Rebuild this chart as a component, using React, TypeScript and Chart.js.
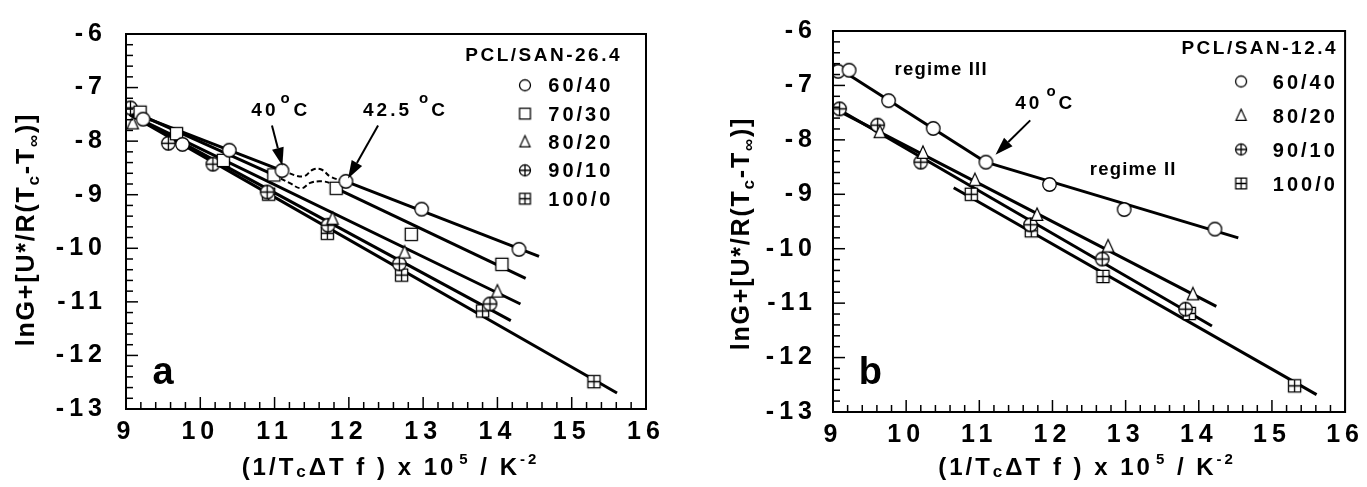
import React, { useEffect, useRef } from 'react';
import { Chart, registerables } from 'chart.js';

Chart.register(...registerables);

const FAM = "'Liberation Sans', Arial, Helvetica, sans-serif";

type P = [number, number];
type SymKind = 'circle' | 'square' | 'triangle' | 'circlePlus' | 'squarePlus';

// ---------------- axes ----------------
const X_MIN = 9;
const X_MAX = 16;
const Y_MIN = -13;
const Y_MAX = -6;
const MINOR_PER_UNIT = 5;

// ---------------- panel a : PCL/SAN-26.4 ----------------
const A_LEGEND_TITLE = 'PCL/SAN-26.4';
const A_LABELS = ['60/40', '70/30', '80/20', '90/10', '100/0'];
const A_6040: P[] = [[9.23, -7.59], [9.76, -8.06], [10.39, -8.17], [11.10, -8.55], [11.96, -8.75], [12.98, -9.27], [14.29, -10.02]];
const A_7030: P[] = [[9.19, -7.46], [9.68, -7.86], [10.31, -8.36], [10.99, -8.63], [11.83, -8.88], [12.84, -9.74], [14.06, -10.30]];
const A_8020: P[] = [[9.09, -7.67], [11.78, -9.45], [12.75, -10.08], [14.00, -10.81]];
const A_9010: P[] = [[9.06, -7.38], [9.57, -8.04], [10.17, -8.43], [10.90, -8.95], [11.72, -9.57], [12.68, -10.29], [13.90, -11.04]];
const A_1000: P[] = [[10.92, -8.99], [11.71, -9.72], [12.71, -10.50], [13.80, -11.17], [15.30, -12.49]];
const A_FIT_6040_III: P[] = [[9.05, -7.45], [11.10, -8.55]];
const A_FIT_6040_II: P[] = [[11.96, -8.75], [14.56, -10.15]];
const A_FIT_7030_III: P[] = [[9.05, -7.42], [10.99, -8.63]];
const A_FIT_7030_II: P[] = [[11.83, -8.88], [14.38, -10.56]];
const A_FIT_8020: P[] = [[9.05, -7.50], [14.31, -11.04]];
const A_FIT_9010: P[] = [[9.05, -7.50], [14.18, -11.35]];
const A_FIT_1000: P[] = [[9.05, -7.50], [15.61, -12.70]];
const A_TRANS_6040: P[] = [[11.10, -8.55], [11.38, -8.66], [11.52, -8.53], [11.63, -8.53], [11.76, -8.67], [11.96, -8.75]];
const A_TRANS_7030: P[] = [[10.99, -8.63], [11.20, -8.78], [11.36, -8.88], [11.48, -8.78], [11.62, -8.75], [11.76, -8.79], [11.83, -8.88]];

// ---------------- panel b : PCL/SAN-12.4 ----------------
const B_LEGEND_TITLE = 'PCL/SAN-12.4';
const B_LABELS = ['60/40', '80/20', '90/10', '100/0'];
const B_6040: P[] = [[9.07, -6.74], [9.22, -6.72], [9.76, -7.28], [10.37, -7.79], [11.09, -8.41], [11.96, -8.82], [12.98, -9.28], [14.22, -9.64]];
const B_8020: P[] = [[9.64, -7.86], [10.23, -8.24], [10.94, -8.74], [11.79, -9.38], [12.76, -9.96], [13.92, -10.84]];
const B_9010: P[] = [[9.09, -7.43], [9.61, -7.73], [10.20, -8.41], [11.70, -9.56], [12.68, -10.19], [13.82, -11.11]];
const B_1000: P[] = [[10.89, -9.00], [11.71, -9.67], [12.69, -10.51], [13.87, -11.19], [15.31, -12.52]];
const B_FIT_6040_III: P[] = [[9.00, -6.62], [11.09, -8.41]];
const B_FIT_6040_II: P[] = [[11.09, -8.41], [14.54, -9.80]];
const B_FIT_8020: P[] = [[9.05, -7.45], [14.24, -11.06]];
const B_FIT_9010: P[] = [[9.05, -7.42], [14.18, -11.42]];
const B_FIT_1000: P[] = [[10.65, -8.88], [15.61, -12.68]];

// ---------------- helpers ----------------
function makeSymbol(kind: SymKind, size: number, lw: number): HTMLCanvasElement {
  const dim = Math.ceil(size + lw * 2 + 2);
  const c = document.createElement('canvas');
  c.width = dim;
  c.height = dim;
  const ctx = c.getContext('2d')!;
  const m = dim / 2;
  const r = size / 2;
  ctx.lineWidth = lw;
  ctx.strokeStyle = '#000';
  ctx.fillStyle = '#fff';
  ctx.beginPath();
  if (kind === 'circle' || kind === 'circlePlus') {
    ctx.arc(m, m, r, 0, Math.PI * 2);
  } else if (kind === 'square' || kind === 'squarePlus') {
    ctx.rect(m - r * 0.9, m - r * 0.9, r * 1.8, r * 1.8);
  } else {
    ctx.moveTo(m, m - r * 1.05);
    ctx.lineTo(m + r * 0.85, m + r * 0.8);
    ctx.lineTo(m - r * 0.85, m + r * 0.8);
    ctx.closePath();
  }
  ctx.fill();
  ctx.stroke();
  if (kind === 'circlePlus' || kind === 'squarePlus') {
    const e = kind === 'circlePlus' ? r : r * 0.9;
    ctx.beginPath();
    ctx.moveTo(m - e, m);
    ctx.lineTo(m + e, m);
    ctx.moveTo(m, m - e);
    ctx.lineTo(m, m + e);
    ctx.stroke();
  }
  return c;
}

function setLS(ctx: CanvasRenderingContext2D, px: number) {
  (ctx as any).letterSpacing = `${px}px`;
}

type Seg = { t: string; size: number; dy?: number; gap?: number };

function richWidth(ctx: CanvasRenderingContext2D, segs: Seg[], ls: number) {
  let w = 0;
  for (const s of segs) {
    ctx.font = `bold ${s.size}px ${FAM}`;
    setLS(ctx, ls);
    w += (s.gap ?? 0) + ctx.measureText(s.t).width;
  }
  return w;
}

function drawRich(ctx: CanvasRenderingContext2D, segs: Seg[], x: number, y: number, ls: number, align: 'left' | 'center' | 'right') {
  const w = richWidth(ctx, segs, ls);
  let cx = align === 'center' ? x - w / 2 : align === 'right' ? x - w : x;
  ctx.textAlign = 'left';
  ctx.textBaseline = 'alphabetic';
  ctx.fillStyle = '#000';
  for (const s of segs) {
    cx += s.gap ?? 0;
    ctx.font = `bold ${s.size}px ${FAM}`;
    setLS(ctx, ls);
    ctx.fillText(s.t, cx, y + (s.dy ?? 0));
    cx += ctx.measureText(s.t).width;
  }
}

function drawArrow(ctx: CanvasRenderingContext2D, x1: number, y1: number, x2: number, y2: number) {
  const ang = Math.atan2(y2 - y1, x2 - x1);
  const hl = 18;
  const hw = 6;
  const bx = x2 - Math.cos(ang) * hl;
  const by = y2 - Math.sin(ang) * hl;
  ctx.beginPath();
  ctx.moveTo(x1, y1);
  ctx.lineTo(bx, by);
  ctx.lineWidth = 2;
  ctx.stroke();
  ctx.beginPath();
  ctx.moveTo(x2, y2);
  ctx.lineTo(bx + Math.sin(ang) * hw, by - Math.cos(ang) * hw);
  ctx.lineTo(bx - Math.sin(ang) * hw, by + Math.cos(ang) * hw);
  ctx.closePath();
  ctx.fill();
}

const Y_TITLE: Seg[] = [
  { t: 'lnG+[U*/R(T', size: 25 },
  { t: 'c', size: 17, dy: 5 },
  { t: '-T', size: 25 },
  { t: '\u221E', size: 17, dy: 5 },
  { t: ')]', size: 25 },
];
const X_TITLE: Seg[] = [
  { t: '(1/T', size: 24 },
  { t: 'c', size: 17, dy: 2 },
  { t: '\u0394T f ) x 10', size: 24 },
  { t: '5', size: 15, dy: -11, gap: 3 },
  { t: ' / K', size: 24 },
  { t: '-2', size: 15, dy: -11 },
];

type Series = { label: string; pts: P[]; sym: SymKind };
type TextAnn = { at: P; segs: Seg[]; ls: number };

interface PanelCfg {
  series: Series[];
  fits: P[][];
  dashed: P[][];
  legendTitle: string;
  pad: { left: number; right: number; top: number };
  yAxisWidth: number;
  xAxisHeight: number;
  yTickPad: number;
  legend: { titleRight: number; titleBase: number; symX: number; textX: number; row0: number; rowStep: number };
  arrows: { from: P; to: P }[];
  texts: TextAnn[];
  yTitle: { dx: number; dy: number };
  xTitle: { dx: number; base: number };
}

const PANEL_A: PanelCfg = {
  series: [
    { label: A_LABELS[0], pts: A_6040, sym: 'circle' },
    { label: A_LABELS[1], pts: A_7030, sym: 'square' },
    { label: A_LABELS[2], pts: A_8020, sym: 'triangle' },
    { label: A_LABELS[3], pts: A_9010, sym: 'circlePlus' },
    { label: A_LABELS[4], pts: A_1000, sym: 'squarePlus' },
  ],
  fits: [A_FIT_6040_III, A_FIT_6040_II, A_FIT_7030_III, A_FIT_7030_II, A_FIT_8020, A_FIT_9010, A_FIT_1000],
  dashed: [A_TRANS_6040, A_TRANS_7030],
  legendTitle: A_LEGEND_TITLE,
  pad: { left: 0, right: 721, top: 20 },
  yAxisWidth: 126,
  xAxisHeight: 78,
  yTickPad: 19,
  legend: { titleRight: 24, titleBase: 26.7, symX: 121, textX: 97.7, row0: 58.3, rowStep: 28.35 },
  arrows: [
    { from: [10.965, -7.71], to: [11.105, -8.46] },
    { from: [12.393, -7.71], to: [11.989, -8.699] },
  ],
  texts: [
    { at: [10.687, -7.53], ls: 3, segs: [{ t: '40', size: 19 }, { t: 'o', size: 15, dy: -13, gap: 2 }, { t: 'C', size: 19, gap: 1 }] },
    { at: [12.191, -7.53], ls: 3, segs: [{ t: '42.5', size: 19 }, { t: 'o', size: 15, dy: -13, gap: 7 }, { t: 'C', size: 19 }] },
    { at: [9.357, -12.53], ls: 0, segs: [{ t: 'a', size: 38 }] },
  ],
  yTitle: { dx: -101.5, dy: 8 },
  xTitle: { dx: 4.5, base: 475 },
};

const PANEL_B: PanelCfg = {
  series: [
    { label: B_LABELS[0], pts: B_6040, sym: 'circle' },
    { label: B_LABELS[1], pts: B_8020, sym: 'triangle' },
    { label: B_LABELS[2], pts: B_9010, sym: 'circlePlus' },
    { label: B_LABELS[3], pts: B_1000, sym: 'squarePlus' },
  ],
  fits: [B_FIT_6040_III, B_FIT_6040_II, B_FIT_8020, B_FIT_9010, B_FIT_1000],
  dashed: [],
  legendTitle: B_LEGEND_TITLE,
  pad: { left: 700, right: 18, top: 24 },
  yAxisWidth: 133,
  xAxisHeight: 75,
  yTickPad: 16,
  legend: { titleRight: 7, titleBase: 22.7, symX: 104, textX: 72.3, row0: 57.5, rowStep: 34 },
  arrows: [{ from: [11.696, -7.642], to: [11.221, -8.273] }],
  texts: [
    { at: [11.492, -7.431], ls: 3, segs: [{ t: '40', size: 19 }, { t: 'o', size: 15, dy: -13, gap: 4 }, { t: 'C', size: 19 }] },
    { at: [9.841, -6.812], ls: 1.2, segs: [{ t: 'regime III', size: 18.5 }] },
    { at: [12.51, -8.652], ls: 1.2, segs: [{ t: 'regime II', size: 18.5 }] },
    { at: [9.353, -12.477], ls: 0, segs: [{ t: 'b', size: 38 }] },
  ],
  yTitle: { dx: -93, dy: 12 },
  xTitle: { dx: -2, base: 475 },
};

const toXY = (arr: P[]) => arr.map(([x, y]) => ({ x, y }));

function buildChart(canvas: HTMLCanvasElement, cfg: PanelCfg) {
  const bigSyms: Record<SymKind, HTMLCanvasElement> = {
    circle: makeSymbol('circle', 13.5, 1.3),
    square: makeSymbol('square', 13.5, 1.3),
    triangle: makeSymbol('triangle', 13.5, 1.2),
    circlePlus: makeSymbol('circlePlus', 13.5, 1.3),
    squarePlus: makeSymbol('squarePlus', 13.5, 1.3),
  };
  const smallSyms: Record<SymKind, HTMLCanvasElement> = {
    circle: makeSymbol('circle', 11, 1.3),
    square: makeSymbol('square', 12, 1.3),
    triangle: makeSymbol('triangle', 12, 1.2),
    circlePlus: makeSymbol('circlePlus', 11, 1.3),
    squarePlus: makeSymbol('squarePlus', 12, 1.3),
  };

  const datasets: any[] = [];
  cfg.series.forEach((s) => {
    datasets.push({
      type: 'scatter',
      label: s.label,
      data: toXY(s.pts),
      pointStyle: bigSyms[s.sym],
      pointRadius: 7,
      showLine: false,
      order: 0,
    });
  });
  cfg.fits.forEach((f) => {
    datasets.push({
      type: 'line',
      data: toXY(f),
      borderColor: '#000',
      borderWidth: 3,
      pointRadius: 0,
      fill: false,
      tension: 0,
      order: 5,
    });
  });
  cfg.dashed.forEach((f) => {
    datasets.push({
      type: 'line',
      data: toXY(f),
      borderColor: '#000',
      borderWidth: 2,
      borderDash: [5, 3],
      pointRadius: 0,
      fill: false,
      tension: 0.4,
      order: 5,
    });
  });

  const extras = {
    id: 'panelExtras',
    beforeDraw(chart: any) {
      setLS(chart.ctx, 5);
    },
    beforeDatasetsDraw(chart: any) {
      setLS(chart.ctx, 0);
    },
    afterDraw(chart: any) {
      const ctx: CanvasRenderingContext2D = chart.ctx;
      const ca = chart.chartArea;
      const xs = chart.scales.x;
      const ys = chart.scales.y;
      ctx.save();
      setLS(ctx, 0);
      ctx.strokeStyle = '#000';
      ctx.fillStyle = '#000';
      // frame
      ctx.lineWidth = 2;
      ctx.strokeRect(ca.left, ca.top, ca.right - ca.left, ca.bottom - ca.top);
      // inward ticks
      ctx.lineWidth = 1.5;
      const nx = (X_MAX - X_MIN) * MINOR_PER_UNIT;
      for (let i = 0; i <= nx; i++) {
        const px = xs.getPixelForValue(X_MIN + i / MINOR_PER_UNIT);
        const len = i % MINOR_PER_UNIT === 0 ? 12 : 7;
        ctx.beginPath();
        ctx.moveTo(px, ca.bottom);
        ctx.lineTo(px, ca.bottom - len);
        ctx.stroke();
      }
      const ny = (Y_MAX - Y_MIN) * MINOR_PER_UNIT;
      for (let i = 0; i <= ny; i++) {
        const py = ys.getPixelForValue(Y_MIN + i / MINOR_PER_UNIT);
        const len = i % MINOR_PER_UNIT === 0 ? 12 : 7;
        ctx.beginPath();
        ctx.moveTo(ca.left, py);
        ctx.lineTo(ca.left + len, py);
        ctx.stroke();
      }
      // legend
      const L = cfg.legend;
      drawRich(ctx, [{ t: cfg.legendTitle, size: 19 }], ca.right - L.titleRight, ca.top + L.titleBase, 2.5, 'right');
      cfg.series.forEach((s, i) => {
        const base = ca.top + L.row0 + i * L.rowStep;
        const img = smallSyms[s.sym];
        ctx.drawImage(img, ca.right - L.symX - img.width / 2, base - 7 - img.height / 2);
        drawRich(ctx, [{ t: s.label, size: 20 }], ca.right - L.textX, base, 3, 'left');
      });
      // arrows
      ctx.lineWidth = 2;
      cfg.arrows.forEach((a) => {
        drawArrow(
          ctx,
          xs.getPixelForValue(a.from[0]), ys.getPixelForValue(a.from[1]),
          xs.getPixelForValue(a.to[0]), ys.getPixelForValue(a.to[1])
        );
      });
      // text annotations
      cfg.texts.forEach((t) => {
        drawRich(ctx, t.segs, xs.getPixelForValue(t.at[0]), ys.getPixelForValue(t.at[1]), t.ls, 'left');
      });
      // axis titles
      const cxX = (ca.left + ca.right) / 2 + cfg.xTitle.dx;
      drawRich(ctx, X_TITLE, cxX, cfg.xTitle.base, 3, 'center');
      ctx.save();
      ctx.translate(ca.left + cfg.yTitle.dx, (ca.top + ca.bottom) / 2 + cfg.yTitle.dy);
      ctx.rotate(-Math.PI / 2);
      drawRich(ctx, Y_TITLE, 0, 9, 1.8, 'center');
      ctx.restore();
      ctx.restore();
    },
  };

  return new Chart(canvas, {
    type: 'scatter',
    data: { datasets },
    options: {
      responsive: false,
      maintainAspectRatio: false,
      animation: false,
      devicePixelRatio: 1,
      events: [],
      layout: { padding: { left: cfg.pad.left, right: cfg.pad.right, top: cfg.pad.top, bottom: 0 } },
      plugins: { legend: { display: false }, tooltip: { enabled: false } },
      scales: {
        x: {
          type: 'linear',
          min: X_MIN,
          max: X_MAX,
          grid: { display: false, drawTicks: false },
          border: { display: false },
          ticks: {
            stepSize: 1,
            padding: 8,
            color: '#000',
            font: { family: FAM, size: 25, weight: 'bold' },
            callback: (v: any) => String(v),
          },
          afterFit: (s: any) => { s.height = cfg.xAxisHeight; },
        },
        y: {
          type: 'linear',
          min: Y_MIN,
          max: Y_MAX,
          grid: { display: false, drawTicks: false },
          border: { display: false },
          ticks: {
            stepSize: 1,
            padding: cfg.yTickPad,
            color: '#000',
            font: { family: FAM, size: 25, weight: 'bold' },
            callback: (v: any) => '-' + String(Math.abs(v)),
          },
          afterFit: (s: any) => { s.width = cfg.yAxisWidth; },
        },
      },
    } as any,
    plugins: [extras],
  });
}

export default function App() {
  const refA = useRef<HTMLCanvasElement>(null);
  const refB = useRef<HTMLCanvasElement>(null);
  useEffect(() => {
    const a = buildChart(refA.current!, PANEL_A);
    const b = buildChart(refB.current!, PANEL_B);
    return () => {
      a.destroy();
      b.destroy();
    };
  }, []);
  const cs: React.CSSProperties = { position: 'absolute', left: 0, top: 0, width: 1367, height: 487 };
  return (
    <div style={{ position: 'fixed', left: 0, top: 0, width: 1367, height: 487, background: '#fff' }}>
      <canvas ref={refA} width={1367} height={487} style={cs} />
      <canvas ref={refB} width={1367} height={487} style={cs} />
    </div>
  );
}
